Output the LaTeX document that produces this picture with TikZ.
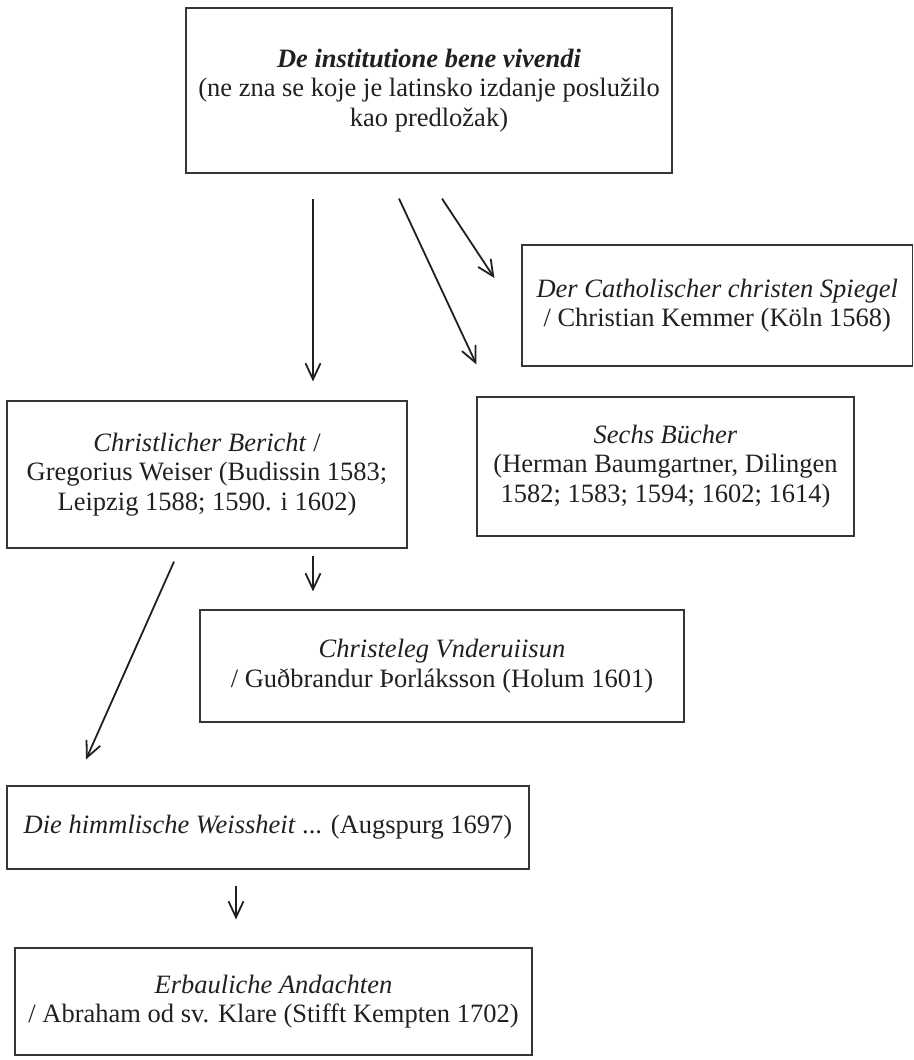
\documentclass[tikz,border=0pt]{standalone}
\usepackage{fontspec}
\setmainfont{Liberation Serif}
\usetikzlibrary{arrows.meta}
\definecolor{ink}{HTML}{231F20}
\tikzset{
  box/.style={draw=ink!90, line width=1.2pt, rectangle, align=center, text=ink,
    inner sep=0pt, font=\fontsize{26.5}{29.5}\selectfont},
  arr/.style={draw=ink, line width=1.8pt, -{Straight Barb[length=16pt,width=15pt]}}
}
\begin{document}
\begin{tikzpicture}[x=1pt,y=-1pt]
\useasboundingbox (0,0) rectangle (913,1060);
\node[box, minimum width=486, minimum height=165] (top) at (429,90.5)
  {\textbf{\textit{De institutione bene vivendi}}\\(ne zna se koje je latinsko izdanje poslužilo\\kao predložak)};
\node[box, minimum width=390.5, minimum height=121] (cath) at (717.25,305.5)
  {\textit{Der Catholischer christen Spiegel}\\/ Christian Kemmer (Köln 1568)};
\node[box, minimum width=400, minimum height=147] (chr) at (207,474.5)
  {\textit{Christlicher Bericht} /\\Gregorius Weiser (Budissin 1583;\\Leipzig 1588; 1590. i 1602)};
\node[box, minimum width=377, minimum height=139] (sechs) at (665.5,466.5)
  {\textit{Sechs Bücher}\\(Herman Baumgartner, Dilingen\\1582; 1583; 1594; 1602; 1614)};
\node[box, minimum width=484, minimum height=112] (chrl) at (442,666)
  {\textit{Christeleg Vnderuiisun}\\/ Guðbrandur Þorláksson (Holum 1601)};
\node[box, minimum width=522, minimum height=83] (die) at (268,827.5)
  {\textit{Die himmlische Weissheit} ... (Augspurg 1697)};
\node[box, minimum width=517, minimum height=107] (erb) at (273.5,1001.5)
  {\textit{Erbauliche Andachten}\\/ Abraham od sv. Klare (Stifft Kempten 1702)};
\draw[arr] ([shift={(-116,25)}]top.south) -- ([shift={(106,-19)}]chr.north);
\draw[arr] ([shift={(-30,25)}]top.south) -- ([shift={(0,-32)}]sechs.north west);
\draw[arr] ([shift={(13,25)}]top.south) -- ([shift={(-27,-27.5)}]cath.west);
\draw[arr] ([shift={(106,7)}]chr.south) -- ([shift={(-129,-18)}]chrl.north);
\draw[arr] ([shift={(-33,13)}]chr.south) -- ([shift={(-182,-26)}]die.north);
\draw[arr] ([shift={(-32,16)}]die.south) -- ([shift={(-37.5,-28)}]erb.north);
\end{tikzpicture}
\end{document}
